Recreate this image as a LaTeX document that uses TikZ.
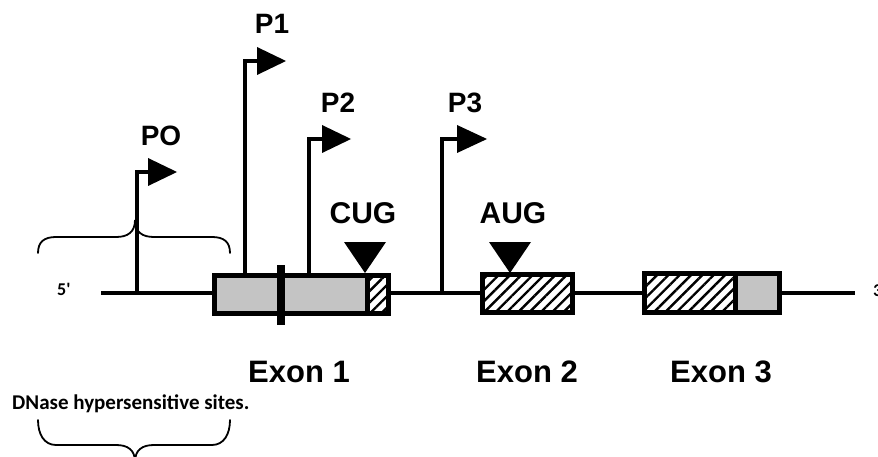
\documentclass[tikz,border=0pt]{standalone}
\usepackage{fontspec}
\setmainfont{Liberation Sans}
\newfontfamily\calfont{Carlito}
\usetikzlibrary{patterns.meta}
\definecolor{exgray}{RGB}{196,196,196}
\begin{document}
\begin{tikzpicture}[x=1pt,y=-1pt,
  plabel/.style={font=\bfseries\fontsize{28}{30}\selectfont, inner sep=0pt, anchor=base},
  codon/.style={font=\bfseries\fontsize{30}{32}\selectfont, inner sep=0pt, anchor=base},
  exlabel/.style={font=\bfseries\fontsize{31}{33}\selectfont, inner sep=0pt, anchor=base},
  endlabel/.style={font=\calfont\bfseries\fontsize{18}{20}\selectfont, inner sep=0pt, anchor=base west},
  note/.style={font=\calfont\bfseries\fontsize{21}{23}\selectfont, inner sep=0pt, anchor=base west},
  gene/.style={line width=4pt},
  boxline/.style={line width=5.5pt},
  promline/.style={line width=4pt},
  hatch/.style={pattern={Lines[angle=45,distance=8pt,line width=2.4pt]}},
  graybox/.style={fill=exgray},
  bracestyle/.style={line width=1.8pt, line cap=round},
  tri/.style={fill=black}
]
\useasboundingbox (0,0) rectangle (878,457);

% gene line
\coordinate (g5) at (101,293);
\coordinate (g3) at (855,293);
\draw[gene] (g5) -- (g3);

% Exon 1
\fill[graybox] (214.5,275.5) rectangle (367,313.5);
\fill[white] (367,275.5) rectangle (388.5,313.5);
\fill[hatch] (367,275.5) rectangle (388.5,313.5);
\draw[line width=5pt] (367,275.5) -- (367,313.5);
\draw[boxline] (214.5,275.5) rectangle (388.5,313.5);
\fill (277,265) rectangle (285,325);

% Exon 2
\fill[white] (482.5,274.5) rectangle (572.5,312.5);
\fill[hatch] (482.5,274.5) rectangle (572.5,312.5);
\draw[boxline] (482.5,274.5) rectangle (572.5,312.5);

% Exon 3
\fill[white] (644.5,273.5) rectangle (735,312.5);
\fill[hatch] (644.5,273.5) rectangle (735,312.5);
\fill[graybox] (735,273.5) rectangle (779.5,312.5);
\draw[line width=5pt] (735,273.5) -- (735,312.5);
\draw[boxline] (644.5,273.5) rectangle (779.5,312.5);

% promoters
\coordinate (p0b) at (137,293);
\coordinate (p0t) at (137,172);
\draw[promline] (p0b) -- (p0t) -- (149,172);
\fill[tri] (148,158) -- (177,172) -- (148,186) -- cycle;
\node[plabel] (PO) at (161,146) {PO};

\coordinate (p1b) at (245,275);
\coordinate (p1t) at (245,61);
\draw[promline] (p1b) -- (p1t) -- (258,61);
\fill[tri] (257,47) -- (286,61) -- (257,75) -- cycle;
\node[plabel] (P1) at (272,34) {P1};

\coordinate (p2b) at (309,275);
\coordinate (p2t) at (309,139);
\draw[promline] (p2b) -- (p2t) -- (323,139);
\fill[tri] (322,125) -- (351,139) -- (322,153) -- cycle;
\node[plabel] (P2) at (338,113) {P2};

\coordinate (p3b) at (442,293);
\coordinate (p3t) at (442,139);
\draw[promline] (p3b) -- (p3t) -- (458,139);
\fill[tri] (457,125) -- (487,139) -- (457,153) -- cycle;
\node[plabel] (P3) at (465,113) {P3};

% start codons
\fill[tri] (344,242) -- (386,242) -- (365,273) -- cycle;
\node[codon] (CUG) at (363,223) {CUG};
\fill[tri] (489,242) -- (531,242) -- (510,273) -- cycle;
\node[codon] (AUG) at (513,223) {AUG};

% exon labels
\node[exlabel] (E1) at (299,382) {Exon 1};
\node[exlabel] (E2) at (527,382) {Exon 2};
\node[exlabel] (E3) at (721,382) {Exon 3};

% ends
\node[endlabel] (five) at (57,295) {5'};
\node[endlabel] (three) at (873,296) {3'};

% braces
\draw[bracestyle] (38,253) .. controls (38,242) and (44,237) .. (56,237)
  -- (116,237) .. controls (128,237) and (135,232) .. (135,220)
  .. controls (135,232) and (142,237) .. (154,237)
  -- (212,237) .. controls (224,237) and (230,242) .. (230,253);
\draw[bracestyle] (38,420) .. controls (38,434) and (44,445) .. (56,445)
  -- (116,445) .. controls (128,445) and (135,450) .. (135,462)
  .. controls (135,450) and (142,445) .. (154,445)
  -- (212,445) .. controls (224,445) and (230,434) .. (230,420);

\node[note] (dnase) at (12,409) {DNase hypersensitive sites.};
\end{tikzpicture}
\end{document}
